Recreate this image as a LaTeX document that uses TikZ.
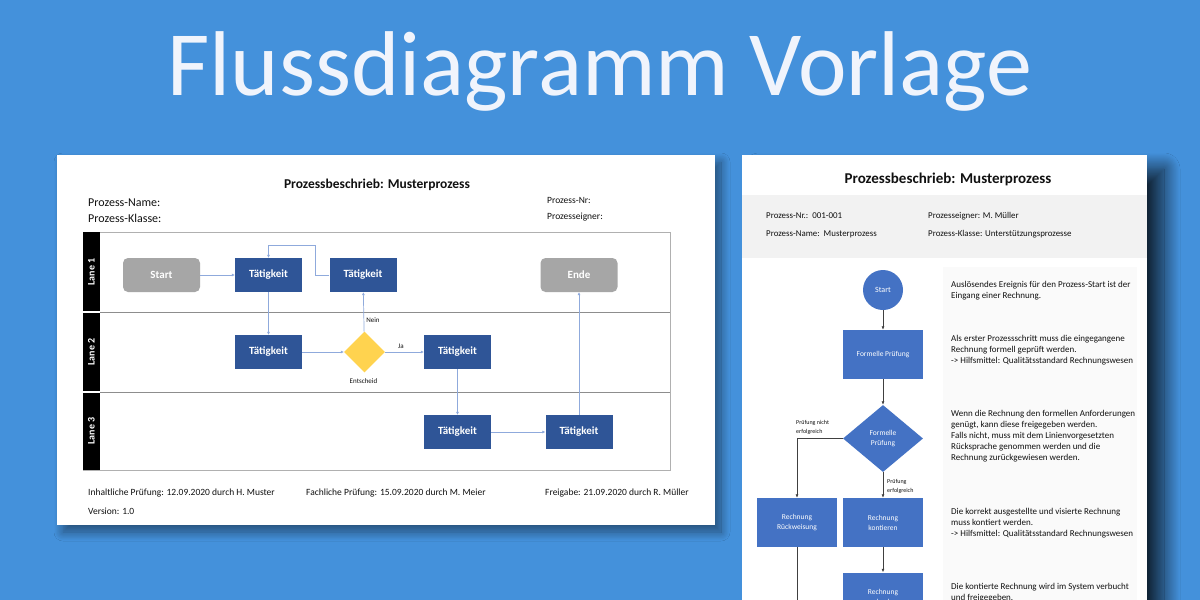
\documentclass[tikz,border=0pt]{standalone}
\usepackage{fontspec}
\setmainfont{Carlito}
\usetikzlibrary{shapes.geometric,arrows.meta,shadows.blur}
\definecolor{bg}{HTML}{4491DB}
\definecolor{titlecol}{HTML}{F0F4FC}
\definecolor{tkblue}{HTML}{2F5597}
\definecolor{termgrey}{HTML}{A6A6A6}
\definecolor{decyellow}{HTML}{FFD34F}
\definecolor{lineblue}{HTML}{8FAADC}
\definecolor{framegrey}{HTML}{B0B0B0}
\definecolor{rblue}{HTML}{4472C4}
\definecolor{bandgrey}{HTML}{F2F2F2}
\definecolor{descgrey}{HTML}{FAFAFA}
\definecolor{txt}{HTML}{111111}
\tikzset{
  tk/.style={fill=tkblue, text=white, font=\bfseries\fontsize{11}{13}\selectfont, minimum width=67pt, minimum height=34pt, inner sep=0pt},
  term/.style={fill=termgrey, text=white, rounded corners=5pt, font=\bfseries\fontsize{11}{13}\selectfont, minimum width=77pt, minimum height=34pt, inner sep=0pt},
  dec/.style={diamond, fill=decyellow, minimum width=41pt, minimum height=41pt, inner sep=0pt},
  lconn/.style={draw=lineblue, line width=0.7pt, -{Latex[length=3pt,width=3pt]}},
  rconn/.style={draw=black!75, line width=0.7pt, -{Latex[length=3.5pt,width=3pt]}},
  rbox/.style={fill=rblue, text=white, font=\fontsize{7.5}{10}\selectfont, minimum width=80pt, minimum height=49pt, inner sep=0pt, align=center},
  small/.style={font=\fontsize{7}{8}\selectfont, text=txt, inner sep=0pt},
  foot/.style={font=\fontsize{9.5}{11}\selectfont, text=txt, anchor=base west, inner sep=0pt},
  band/.style={font=\fontsize{8.9}{10}\selectfont, text=txt, anchor=base west, inner sep=0pt},
  desc/.style={font=\fontsize{9}{11}\selectfont, text=txt, anchor=north west, inner sep=0pt, align=left},
  lane/.style={rotate=90, text=white, font=\bfseries\fontsize{10}{12}\selectfont, inner sep=0pt}
}
\begin{document}
\begin{tikzpicture}[x=1pt,y=-1pt]
\useasboundingbox (0,0) rectangle (1200,600);
\clip (0,0) rectangle (1200,600);
\fill[bg] (0,0) rectangle (1200,600);
% title
\node[text=titlecol, font=\fontsize{92}{100}\selectfont, anchor=base, inner sep=0pt] (title) at (600,95) {Flussdiagramm Vorlage};

% ---------- left card ----------
\path[fill=white, blur shadow={shadow xshift=6pt, shadow yshift=-7pt, shadow blur radius=9pt, shadow blur steps=20, shadow opacity=45}] (57,155) rectangle (715,525);
\node[font=\bfseries\fontsize{13.5}{15}\selectfont, text=txt, anchor=base, inner sep=0pt] (lt) at (377,188) {Prozessbeschrieb: Musterprozess};
\node[font=\fontsize{12}{13}\selectfont, text=txt, anchor=base west, inner sep=0pt] (lpn) at (88,206) {Prozess-Name:};
\node[font=\fontsize{12}{13}\selectfont, text=txt, anchor=base west, inner sep=0pt] (lpk) at (88,222) {Prozess-Klasse:};
\node[font=\fontsize{9.5}{10}\selectfont, text=txt, anchor=base west, inner sep=0pt] (lnr) at (547,203) {Prozess-Nr:};
\node[font=\fontsize{9.5}{10}\selectfont, text=txt, anchor=base west, inner sep=0pt] (lpe) at (547,219) {Prozesseigner:};

% lanes
\draw[framegrey, line width=0.6pt] (83,232) rectangle (670,470);
\draw[framegrey!80!black, line width=0.6pt] (83,312) -- (670,312);
\draw[framegrey!80!black, line width=0.6pt] (83,392) -- (670,392);
\fill[black] (83,232) rectangle (100,470);
\draw[white, line width=1.6pt] (83,312) -- (100,312);
\draw[white, line width=1.6pt] (83,392) -- (100,392);
\node[lane] (l1) at (91.5,272) {Lane 1};
\node[lane] (l2) at (91.5,352) {Lane 2};
\node[lane] (l3) at (91.5,431) {Lane 3};

\node[term] (start) at (161.5,275) {Start};
\node[tk] (t1) at (268.5,275) {Tätigkeit};
\node[tk] (t2) at (363,275) {Tätigkeit};
\node[term] (ende) at (579,275) {Ende};
\node[tk] (t3) at (268.5,352) {Tätigkeit};
\node[dec] (ent) at (364.5,352) {};
\node[tk] (t4) at (457.5,352) {Tätigkeit};
\node[tk] (t5) at (457.5,432) {Tätigkeit};
\node[tk] (t6) at (579,432) {Tätigkeit};
\node[small] (entl) at (363.5,381) {Entscheid};
\node[small] (nein) at (373,320) {Nein};
\node[small] (ja) at (401,346) {Ja};

\draw[lconn] (start) -- (t1);
\draw[lconn] (t1) -- (t3);
\draw[lconn] (t3) -- (ent);
\draw[lconn] (ent) -- (t2);
\draw[lconn] (ent) -- (t4);
\draw[lconn] (t2.west) -- ++(-14,0) -- ++(0,-30) -| (t1.north);
\draw[lconn] (t4) -- (t5);
\draw[lconn] (t5) -- (t6);
\draw[lconn] (t6) -- (ende);

% footer
\node[foot] (f1) at (88,495) {Inhaltliche Prüfung: 12.09.2020 durch H. Muster};
\node[foot] (f2) at (306,495) {Fachliche Prüfung: 15.09.2020 durch M. Meier};
\node[foot] (f3) at (545,495) {Freigabe: 21.09.2020 durch R. Müller};
\node[foot] (f4) at (88,514) {Version: 1.0};

% ---------- right card ----------
\path[fill=white, blur shadow={shadow xshift=17pt, shadow yshift=-14pt, shadow blur radius=16pt, shadow blur steps=24, shadow opacity=75}] (742,155) rectangle (1147,660);
\node[font=\bfseries\fontsize{15}{17}\selectfont, text=txt, anchor=base, inner sep=0pt] (rt) at (948,183) {Prozessbeschrieb: Musterprozess};
\fill[bandgrey] (742,195) rectangle (1147,258);
\node[band] (b1) at (766,218) {Prozess-Nr.:\ \ 001-001};
\node[band] (b2) at (766,236) {Prozess-Name:\ \ Musterprozess};
\node[band] (b3) at (928,218) {Prozesseigner: M. Müller};
\node[band] (b4) at (928,236) {Prozess-Klasse: Unterstützungsprozesse};
\fill[descgrey] (943,267) rectangle (1137,660);

\node[desc] (d1) at (951,281) {Auslösendes Ereignis für den Prozess-Start ist der\\Eingang einer Rechnung.};
\node[desc] (d2) at (951,335) {Als erster Prozessschritt muss die eingegangene\\Rechnung formell geprüft werden.\\-> Hilfsmittel: Qualitätsstandard Rechnungswesen};
\node[desc] (d3) at (951,410) {Wenn die Rechnung den formellen Anforderungen\\genügt, kann diese freigegeben werden.\\Falls nicht, muss mit dem Linienvorgesetzten\\Rücksprache genommen werden und die\\Rechnung zurückgewiesen werden.};
\node[desc] (d4) at (951,508) {Die korrekt ausgestellte und visierte Rechnung\\muss kontiert werden.\\-> Hilfsmittel: Qualitätsstandard Rechnungswesen};
\node[desc] (d5) at (951,583) {Die kontierte Rechnung wird im System verbucht\\und freigegeben.};

\node[circle, fill=rblue, text=white, font=\fontsize{8}{9}\selectfont, minimum size=40pt, inner sep=0pt] (rs) at (883,290) {Start};
\node[rbox] (rf) at (883,354.5) {Formelle Prüfung};
\node[diamond, fill=rblue, text=white, font=\fontsize{7.5}{10}\selectfont, align=center, minimum width=80pt, minimum height=67pt, inner sep=0pt] (rd) at (883,438.5) {Formelle\\Prüfung};
\node[rbox] (rr) at (797,522.5) {Rechnung\\Rückweisung};
\node[rbox] (rk) at (883,522.5) {Rechnung\\kontieren};
\node[rbox] (rv) at (883,597) {Rechnung\\verbuchen};
\coordinate (rrend) at (797,660);

\draw[rconn] (rs) -- (rf);
\draw[rconn] (rf) -- (rd);
\draw[rconn] (rd.west) -| (rr.north);
\draw[rconn] (rd.south) -- (rk.north);
\draw[rconn] (rk) -- (rv);
\draw[draw=black!75, line width=0.7pt] (rr.south) -- (rrend);
\node[small, anchor=west, align=left, font=\fontsize{6}{9}\selectfont] (lab1) at (796,427) {Prüfung nicht\\erfolgreich};
\node[small, anchor=west, align=left, font=\fontsize{6}{9}\selectfont] (lab2) at (887,486) {Prüfung\\erfolgreich};
\end{tikzpicture}
\end{document}
